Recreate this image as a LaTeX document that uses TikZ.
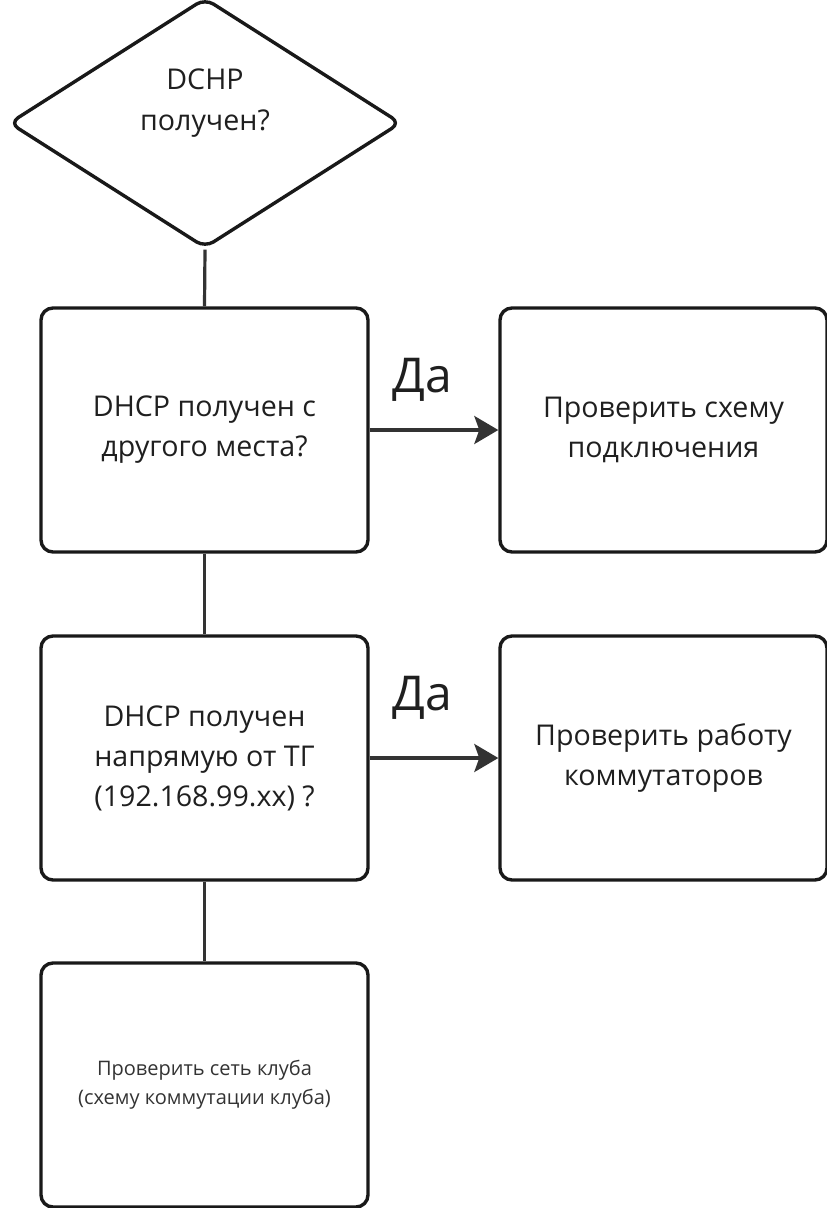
\documentclass[tikz,border=0pt]{standalone}
\usepackage{fontspec}
\setmainfont{Open Sans}
\usetikzlibrary{shapes.geometric,arrows.meta}
\begin{document}
\begin{tikzpicture}[x=1pt,y=-1pt,
  box/.style={draw=black!90,line width=3.4pt,rounded corners=12pt,minimum width=327pt,minimum height=244pt,inner sep=0pt,text=black!88,align=center,font=\fontsize{28.6}{40}\selectfont},
  dec/.style={diamond,draw=black!90,line width=3.4pt,rounded corners=10pt,minimum width=392pt,minimum height=250pt,inner sep=0pt},
  conn/.style={draw=black!80,line width=3.2pt},
  arr/.style={conn,-{Stealth[length=24pt,width=28pt,inset=5pt]}},
  yes/.style={text=black!88,font=\fontsize{48}{56}\selectfont}]
\useasboundingbox (0,0) rectangle (827,1208);
\node[dec] (d) at (205,123) {};
\node[text=black!88,align=center,font=\fontsize{28.6}{41}\selectfont] (dt) at (205,103) {DCHP\\получен?};
\node[box] (b1) at (204.5,430) {DHCP получен с\\другого места?};
\node[box] (b2) at (663.5,430) {Проверить схему\\подключения};
\node[box] (b3) at (204.5,758) {DHCP получен\\напрямую от ТГ\\(192.168.99.xx) ?};
\node[box] (b4) at (663.5,758) {Проверить работу\\коммутаторов};
\node[box,font=\fontsize{20}{29}\selectfont,text=black!80] (b5) at (204.5,1085) {Проверить сеть клуба\\(схему коммутации клуба)};
\draw[conn] (d.south) -- (b1.north);
\draw[conn] (b1.south) -- (b3.north);
\draw[conn] (b3.south) -- (b5.north);
\draw[arr] (b1.east) -- (b2.west);
\draw[arr] (b3.east) -- (b4.west);
\node[yes] (y1) at (422,380) {Да};
\node[yes] (y2) at (422,698) {Да};
\end{tikzpicture}
\end{document}
